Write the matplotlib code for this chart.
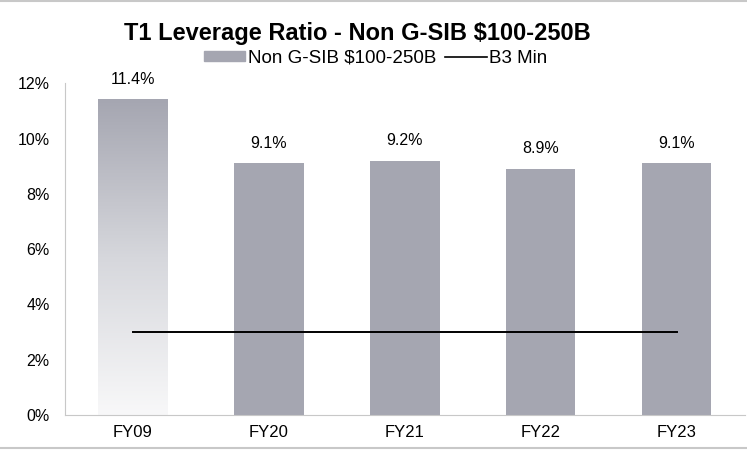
import numpy as np
import matplotlib
matplotlib.use("Agg")
from matplotlib import pyplot as plt
from matplotlib.colors import LinearSegmentedColormap
from matplotlib.lines import Line2D

plt.rcParams['font.family'] = ['Liberation Sans', 'DejaVu Sans']

years = ["FY09", "FY20", "FY21", "FY22", "FY23"]
leverage = [11.4, 9.1, 9.2, 8.9, 9.1]
b3_min = [3.0, 3.0, 3.0, 3.0, 3.0]
yticks = [0, 2, 4, 6, 8, 10, 12]

bar_color = "#A5A6B1"

fig = plt.figure(figsize=(7.47, 4.5), dpi=100)
ax = fig.add_axes([0.087, 0.078, 0.91, 0.737])

x = np.arange(len(years))
bars = ax.bar(x, leverage, width=0.51, color=bar_color, zorder=2,
              label="Non G-SIB $100-250B")

# first bar gets a top-to-bottom fade instead of a solid fill
first = bars[0]
first.set_facecolor("none")
fade = LinearSegmentedColormap.from_list("fade", ["#F8F8F9", "#D6D7DC", bar_color])
x0, w = first.get_x(), first.get_width()
grad = np.linspace(0, 1, 256).reshape(-1, 1)
ax.imshow(grad, cmap=fade, origin="lower", aspect="auto", zorder=1.5,
          extent=[x0, x0 + w, 0, leverage[0]], interpolation="bicubic")

ax.plot(x, b3_min, color="black", lw=1.4, zorder=3, label="B3 Min")

for xi, v in zip(x, leverage):
    ax.text(xi, v + 0.45, f"{v:.1f}%", ha="center", va="bottom", fontsize=11.5)

ax.set_xlim(-0.5, len(years) - 0.5)
ax.set_ylim(0, 12)
ax.set_yticks(yticks)
ax.set_yticklabels([f"{t}%" for t in yticks], fontsize=11.5)
ax.set_xticks(x)
ax.set_xticklabels(years, fontsize=12)
ax.tick_params(length=0)
ax.tick_params(axis="x", pad=7)
ax.tick_params(axis="y", pad=11)

for s in ("top", "right"):
    ax.spines[s].set_visible(False)
ax.spines["left"].set_color("#C8C8C8")
ax.spines["bottom"].set_color("#C8C8C8")

fig.text(0.478, 0.925, "T1 Leverage Ratio - Non G-SIB $100-250B", ha="center",
         va="center", fontsize=17, fontweight="bold")

handles = [plt.Rectangle((0, 0), 1, 1, color=bar_color),
           Line2D([0], [0], color="black", lw=1.2)]
fig.legend(handles, ["Non G-SIB $100-250B", "B3 Min"], loc="center",
           bbox_to_anchor=(0.503, 0.871), ncol=2, frameon=False, fontsize=13.5,
           handlelength=2.2, handleheight=0.45, handletextpad=0.12,
           columnspacing=0.5)

# thin frame lines along the top and bottom of the figure
fig.add_artist(Line2D([0, 1], [0.998, 0.998], color="#C8C8C8", lw=1.5,
                      transform=fig.transFigure))
fig.add_artist(Line2D([0, 1], [0.004, 0.004], color="#C8C8C8", lw=1.5,
                      transform=fig.transFigure))

fig.savefig("out.png", dpi=100)
